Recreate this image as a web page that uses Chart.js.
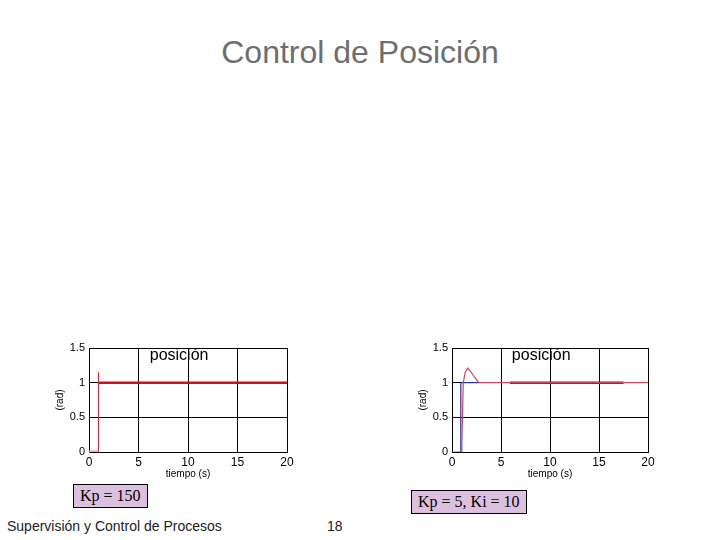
<!DOCTYPE html>
<html>
<head>
<meta charset="utf-8">
<script src="https://cdn.jsdelivr.net/npm/chart.js@4.4.1/dist/chart.umd.min.js"></script>
<style>
  body { margin:0; width:720px; height:540px; background:#fff; position:relative; overflow:hidden; font-family:"Liberation Sans", Arial, sans-serif; }
  .abs { position:absolute; }
  #title { left:0; width:720px; top:34px; text-align:center; font-size:32px; color:#6e6e6e; }
  .box { background:#dcc0e0; border:1px solid #000; font-family:"Liberation Serif", "Times New Roman", serif; font-size:16px; color:#000; padding:2px 6px; white-space:nowrap; }
  #footer { left:7px; top:518px; font-size:14px; color:#222; }
  #page { left:327px; top:518px; font-size:14px; color:#222; }
</style>
</head>
<body>
<div id="title" class="abs">Control de Posición</div>

<div class="abs" style="left:50px; top:330px; width:250px; height:154px;"><canvas id="leftChart"></canvas></div>
<div class="abs" style="left:413px; top:330px; width:247px; height:154px;"><canvas id="rightChart"></canvas></div>

<div class="abs box" style="left:73px; top:484px;">Kp = 150</div>
<div class="abs box" style="left:411px; top:490px;">Kp = 5, Ki = 10</div>

<div id="footer" class="abs">Supervisión y Control de Procesos</div>
<div id="page" class="abs">18</div>

<script>
// tick values
const xTicks = [0, 5, 10, 15, 20];
const yTicks = [0, 0.5, 1, 1.5];

// left plot (Kp = 150)
const leftStepT = [0, 0.92];
const leftStepY = [0, 0];
const leftSpikeT = [0.95, 0.95, 0.97];
const leftSpikeY = [0, 1.15, 1.0];
const leftRespT = [1.0, 20];
const leftRespY = [1.0, 1.0];

// right plot (Kp = 5, Ki = 10)
const rightRefT = [0.9, 0.9, 2.8];
const rightRefY = [0, 1, 1];
const rightRespT = [0, 0.95, 1.0, 1.15, 1.35, 1.6, 1.9, 2.2, 2.5, 2.75, 20];
const rightRespY = [0, 0, 0.1, 1.0, 1.15, 1.21, 1.16, 1.1, 1.04, 1.0, 1.0];
const rightPlateauT = [5.9, 17.5];
const rightPlateauY = [1, 1];

function pts(t, y) { return t.map((v, i) => ({x: v, y: y[i]})); }

function line(t, y, color, width) {
  return { data: pts(t, y), borderColor: color, borderWidth: width, pointRadius: 0, showLine: true, fill: false, tension: 0 };
}

// "posición" label drawn inside the plot at data coords
const labelPlugin = {
  id: 'posLabel',
  afterDraw(chart) {
    const ctx = chart.ctx;
    const xs = chart.scales.x, ys = chart.scales.y;
    ctx.save();
    ctx.fillStyle = '#000';
    ctx.font = '16px "Liberation Sans", Arial, sans-serif';
    ctx.textAlign = 'center';
    ctx.textBaseline = 'middle';
    ctx.fillText('posición', xs.getPixelForValue(9.1), ys.getPixelForValue(1.39));
    ctx.restore();
  }
};

function makeChart(id, datasets, padRight) {
  new Chart(document.getElementById(id), {
    type: 'scatter',
    data: { datasets: datasets },
    plugins: [labelPlugin],
    options: {
      responsive: true,
      maintainAspectRatio: false,
      animation: false,
      layout: { padding: { top: 18, right: padRight, left: 0, bottom: 0 } },
      plugins: { legend: { display: false }, tooltip: { enabled: false } },
      scales: {
        x: {
          type: 'linear', min: 0, max: 20,
          afterBuildTicks: s => { s.ticks = xTicks.map(v => ({value: v})); },
          afterFit: s => { s.height = 32; },
          grid: { color: '#000', lineWidth: 1, drawTicks: false },
          border: { color: '#000', width: 1 },
          ticks: { color: '#000', font: { size: 12, family: '"Liberation Sans", Arial' }, padding: 3, maxRotation: 0, callback: v => String(v) },
          title: { display: true, text: 'tiempo (s)', color: '#000', font: { size: 10, family: '"Liberation Sans", Arial' }, padding: { top: 0, bottom: 4 } }
        },
        y: {
          min: 0, max: 1.5,
          afterBuildTicks: s => { s.ticks = yTicks.map(v => ({value: v})); },
          afterFit: s => { s.width = 39; },
          grid: { color: '#000', lineWidth: 1, drawTicks: false },
          border: { color: '#000', width: 1 },
          ticks: { color: '#000', font: { size: 11, family: '"Liberation Sans", Arial' }, padding: 4, callback: v => String(v) },
          title: { display: true, text: '(rad)', color: '#000', font: { size: 10, family: '"Liberation Sans", Arial' }, padding: { top: 4, bottom: 0 } }
        }
      }
    }
  });
}

makeChart('leftChart', [
  line(leftStepT, leftStepY, '#f2a0a8', 3),
  line(leftSpikeT, leftSpikeY, '#c0303c', 1.2),
  line(leftRespT, leftRespY, '#d0101c', 2.5)
], 13);

makeChart('rightChart', [
  line(rightRespT, rightRespY, '#d04858', 1.2),
  line(rightRefT, rightRefY, '#2030a0', 1.2),
  line(rightPlateauT, rightPlateauY, '#5a2090', 2.5)
], 12);
</script>
</body>
</html>
